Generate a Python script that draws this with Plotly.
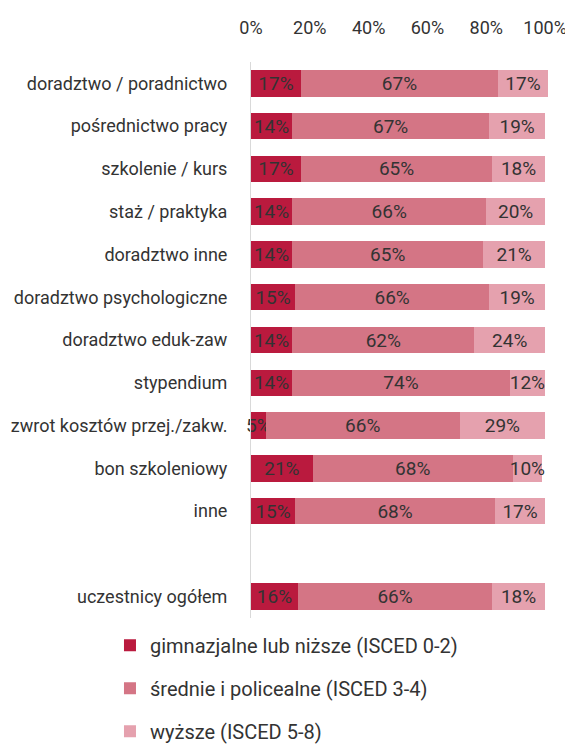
import plotly.graph_objects as go

categories = ["doradztwo / poradnictwo", "pośrednictwo pracy", "szkolenie / kurs",
              "staż / praktyka", "doradztwo inne", "doradztwo psychologiczne",
              "doradztwo eduk-zaw", "stypendium", "zwrot kosztów przej./zakw.",
              "bon szkoleniowy", "inne", " ", "uczestnicy ogółem"]
low = [17, 14, 17, 14, 14, 15, 14, 14, 5, 21, 15, None, 16]
mid = [67, 67, 65, 66, 65, 66, 62, 74, 66, 68, 68, None, 66]
high = [17, 19, 18, 20, 21, 19, 24, 12, 29, 10, 17, None, 18]
series_names = ["gimnazjalne lub niższe (ISCED 0-2)",
                "średnie i policealne (ISCED 3-4)",
                "wyższe (ISCED 5-8)"]
colors = ["#BA1A3E", "#D47585", "#E5A1AE"]
tick_vals = [0, 20, 40, 60, 80, 100]
tick_text = ["0%", "20%", "40%", "60%", "80%", "100%"]

fig = go.Figure()
for i, (name, vals, col) in enumerate(zip(series_names, [low, mid, high], colors)):
    fig.add_trace(go.Bar(
        y=categories, x=vals, name=name, orientation="h",
        marker=dict(color=col, line=dict(width=0)),
        text=[f"{v}%" if v is not None else "" for v in vals],
        textposition="inside", insidetextanchor="middle", textangle=0,
        constraintext="none", cliponaxis=False,
        textfont=dict(family="Roboto", size=19, color="#333333"),
        legendgroup=f"g{i}",
        hoverinfo="skip",
    ))

fig.update_layout(
    barmode="stack", bargap=0.38,
    width=565, height=738,
    margin=dict(l=243, r=25, t=54, b=128, autoexpand=False),
    paper_bgcolor="white", plot_bgcolor="white",
    font=dict(family="Roboto", color="#333333"),
    legend=dict(orientation="v", xref="container", yref="container",
                x=0.1805, xanchor="left", y=0.163, yanchor="top",
                font=dict(family="Roboto", size=20, color="#333333"),
                tracegroupgap=14, itemwidth=30, traceorder="grouped"),
    showlegend=True,
)
fig.update_xaxes(side="top", range=[0, 101], tickvals=tick_vals, ticktext=tick_text,
                 showgrid=False, zeroline=False, showline=False, ticks="",
                 ticklabelstandoff=23, automargin=False,
                 tickfont=dict(family="Roboto", size=18, color="#333333"))
fig.update_yaxes(autorange="reversed", showgrid=False, zeroline=False,
                 showline=True, linecolor="#D9D9D9", linewidth=1, ticks="",
                 ticklabelstandoff=19, automargin=False,
                 tickfont=dict(family="Roboto", size=18, color="#333333"))

fig.write_html("out.html")
